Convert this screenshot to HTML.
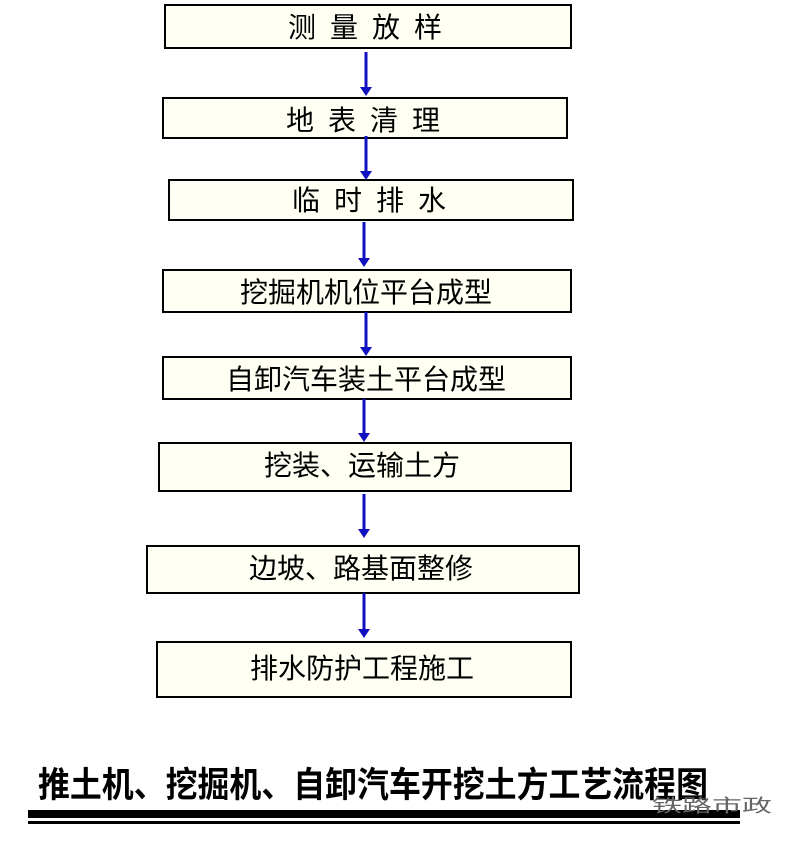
<!DOCTYPE html>
<html><head><meta charset="utf-8"><style>
body{margin:0;background:#fff;}
svg{display:block}
</style></head><body>
<svg width="800" height="842" xmlns="http://www.w3.org/2000/svg" font-family="'Liberation Sans','Noto Sans CJK SC',sans-serif">
<g fill="#fffff3" stroke="#000" stroke-width="2">
<rect x="165" y="5" width="406" height="43"/>
<rect x="163" y="98" width="404" height="40"/>
<rect x="169" y="180" width="404" height="40"/>
<rect x="163" y="270" width="408" height="42"/>
<rect x="163" y="357" width="408" height="42"/>
<rect x="159" y="443" width="412" height="48"/>
<rect x="147" y="546" width="432" height="47"/>
<rect x="157" y="642" width="414" height="55"/>
</g>
<g stroke="#1010c0" stroke-width="3">
<line x1="366" y1="52" x2="366" y2="88"/>
<line x1="366" y1="136" x2="366" y2="172"/>
<line x1="364" y1="222" x2="364" y2="259"/>
<line x1="366" y1="312" x2="366" y2="348"/>
<line x1="364" y1="399" x2="364" y2="434"/>
<line x1="364" y1="494" x2="364" y2="530"/>
<line x1="364" y1="593" x2="364" y2="630"/>
</g>
<g fill="#1010c0">
<polygon points="360,87 372,87 366,96"/>
<polygon points="360,171 372,171 366,180"/>
<polygon points="358,258 370,258 364,267"/>
<polygon points="360,347 372,347 366,356"/>
<polygon points="358,433 370,433 364,442"/>
<polygon points="358,529 370,529 364,538"/>
<polygon points="358,629 370,629 364,638"/>
</g>
<g font-size="28" text-anchor="middle" fill="#000">
<text x="372" y="37" letter-spacing="14">测量放样</text>
<text x="370" y="130" letter-spacing="14">地表清理</text>
<text x="376" y="210" letter-spacing="14">临时排水</text>
<text x="366" y="302">挖掘机机位平台成型</text>
<text x="366" y="389">自卸汽车装土平台成型</text>
<text x="362" y="475">挖装、运输土方</text>
<text x="361" y="578">边坡、路基面整修</text>
<text x="362" y="678">排水防护工程施工</text>
</g>
<text x="373" y="797" font-size="35" font-weight="bold" text-anchor="middle" textLength="670" lengthAdjust="spacingAndGlyphs">推土机、挖掘机、自卸汽车开挖土方工艺流程图</text>
<rect x="28" y="810" width="712" height="8" fill="#000"/>
<rect x="28" y="821" width="712" height="3" fill="#000"/>
<text x="712" y="812" font-size="18" fill="#666" text-anchor="middle" textLength="120" lengthAdjust="spacingAndGlyphs">铁路市政</text>
</svg>
</body></html>
